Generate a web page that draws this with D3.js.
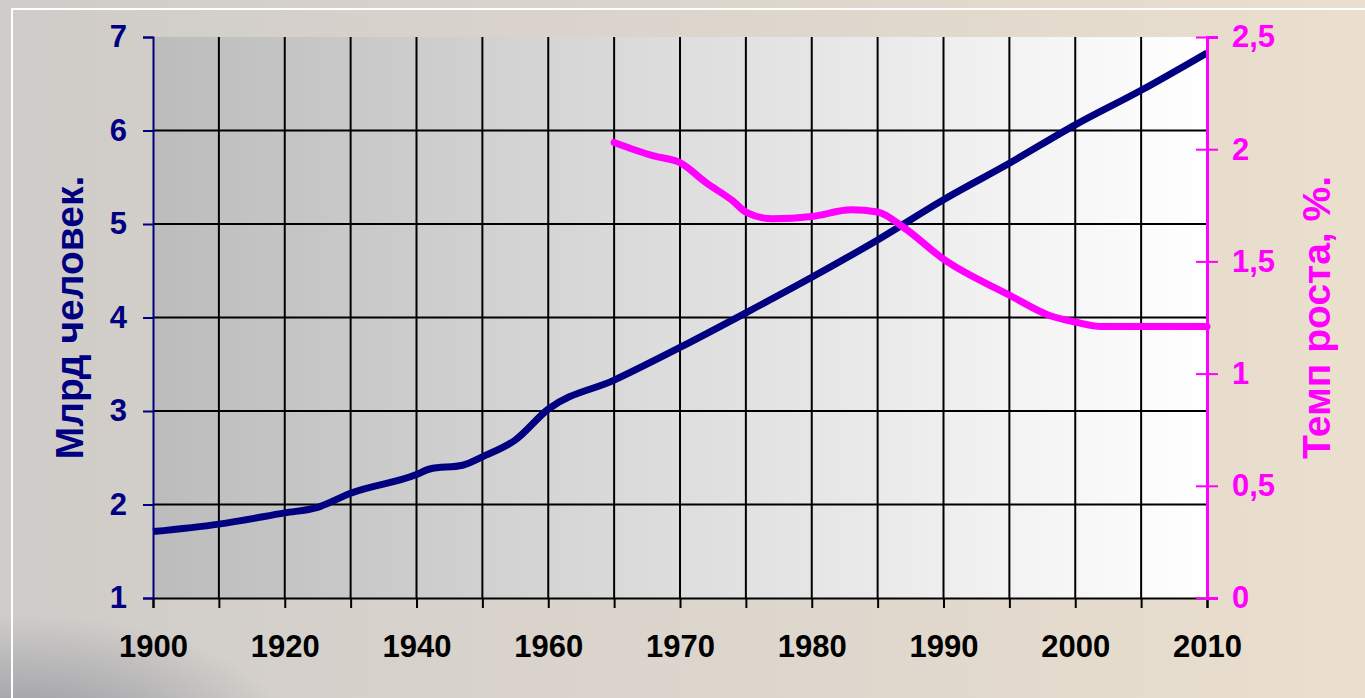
<!DOCTYPE html>
<html>
<head>
<meta charset="utf-8">
<script src="https://cdn.jsdelivr.net/npm/d3@7"></script>
<style>
  html, body { margin: 0; padding: 0; overflow: hidden; }
  body { width: 1365px; height: 698px; }
  text { font-family: "Liberation Sans", Arial, sans-serif; font-weight: bold; }
</style>
</head>
<body>
<svg id="chart" width="1365" height="698"></svg>
<script>
// categories on the x axis (one grid cell each)
var years = [1900, 1910, 1920, 1930, 1940, 1950, 1960, 1965, 1970, 1975, 1980, 1985, 1990, 1995, 2000, 2005, 2010]
var yearLabels = [1900, 1920, 1940, 1960, 1970, 1980, 1990, 2000, 2010]

// world population, bn
var popYears = [1900, 1910, 1920, 1925, 1930, 1940, 1942, 1947, 1950, 1955, 1960, 1965, 1970, 1975, 1980, 1985, 1990, 1995, 2000, 2005, 2010]
var popValues = [1.71, 1.79, 1.91, 1.97, 2.12, 2.32, 2.38, 2.42, 2.51, 2.69, 3.02, 3.33, 3.68, 4.05, 4.43, 4.83, 5.26, 5.65, 6.06, 6.43, 6.83]

// growth rate, %
var rateYears = [1965, 1968, 1970, 1972, 1974, 1975, 1977, 1980, 1983, 1985, 1987, 1990, 1995, 1998, 2000, 2002, 2010]
var rateValues = [2.03, 1.97, 1.94, 1.85, 1.77, 1.72, 1.69, 1.70, 1.73, 1.72, 1.65, 1.51, 1.35, 1.26, 1.23, 1.21, 1.21]

var leftTicks = [1, 2, 3, 4, 5, 6, 7]
var rightTicks = [0, 0.5, 1, 1.5, 2, 2.5]

var svg = d3.select('#chart')
var defs = svg.append('defs')

// page background (photo-like)
var bg = defs.append('linearGradient').attr('id', 'bg').attr('x1', 0).attr('x2', 1).attr('y1', 0).attr('y2', 0)
bg.append('stop').attr('offset', '0%').attr('stop-color', '#cfccc9')
bg.append('stop').attr('offset', '55%').attr('stop-color', '#ddd6cd')
bg.append('stop').attr('offset', '100%').attr('stop-color', '#ebdfcd')
var dark = defs.append('radialGradient').attr('id', 'dark').attr('cx', 0.02).attr('cy', 1.08).attr('r', 0.2)
dark.append('stop').attr('offset', '0%').attr('stop-color', '#7d828e').attr('stop-opacity', 0.8)
dark.append('stop').attr('offset', '100%').attr('stop-color', '#7d828e').attr('stop-opacity', 0)

svg.append('rect').attr('width', 1365).attr('height', 698).attr('fill', 'url(#bg)')
svg.append('rect').attr('width', 1365).attr('height', 698).attr('fill', 'url(#dark)')
svg.append('rect').attr('x', 12).attr('y', 9).attr('width', 1400).attr('height', 720)
  .attr('fill', 'none').attr('stroke', '#ffffff').attr('stroke-width', 2)

// plot area
var m = { left: 153, top: 37 }
var w = 1054, h = 561

var plotBg = defs.append('linearGradient').attr('id', 'plotbg').attr('x1', 0).attr('x2', 1).attr('y1', 0).attr('y2', 0)
plotBg.append('stop').attr('offset', '0%').attr('stop-color', '#bcbcbc')
plotBg.append('stop').attr('offset', '100%').attr('stop-color', '#ffffff')

var g = svg.append('g').attr('transform', 'translate(' + m.left + ',' + m.top + ')')

var x = d3.scaleLinear().domain([1900, 1960, 2010]).range([0, w * 6 / 16, w])
var y = d3.scaleLinear().domain([1, 7]).range([h, 0])
var y2 = d3.scaleLinear().domain([0, 2.5]).range([h, 0])

g.append('rect').attr('width', w).attr('height', h).attr('fill', 'url(#plotbg)')

// grid
g.selectAll('.vgrid').data(years.slice(1, -1)).enter().append('line')
  .attr('x1', function (d) { return x(d) }).attr('x2', function (d) { return x(d) })
  .attr('y1', 0).attr('y2', h)
  .attr('stroke', '#000').attr('stroke-width', 2)
g.selectAll('.hgrid').data(leftTicks.slice(1, -1)).enter().append('line')
  .attr('x1', 0).attr('x2', w)
  .attr('y1', function (d) { return y(d) }).attr('y2', function (d) { return y(d) })
  .attr('stroke', '#000').attr('stroke-width', 2)

// x axis
var xAxis = g.append('g').attr('transform', 'translate(0,' + h + ')')
  .call(d3.axisBottom(x).tickValues(years).tickSize(10).tickPadding(27)
    .tickFormat(function (d) { return yearLabels.indexOf(d) >= 0 ? d : '' }))
xAxis.select('.domain').attr('stroke', '#000').attr('stroke-width', 2)
xAxis.selectAll('.tick line').attr('stroke', '#000').attr('stroke-width', 2)
xAxis.selectAll('text').attr('fill', '#000').style('font-size', '31px')
  .attr('font-family', null).attr('font-size', null)

// left axis
var yAxis = g.append('g')
  .call(d3.axisLeft(y).tickValues(leftTicks).tickSize(10).tickPadding(16).tickFormat(d3.format('d')))
yAxis.select('.domain').attr('stroke', '#000080').attr('stroke-width', 2)
yAxis.selectAll('.tick line').attr('stroke', '#000080').attr('stroke-width', 2)
yAxis.selectAll('text').attr('fill', '#000080').style('font-size', '31px')
  .attr('font-family', null).attr('font-size', null)

// lines
var popLine = d3.line()
  .x(function (d, i) { return x(popYears[i]) })
  .y(function (d) { return y(d) })
  .curve(d3.curveMonotoneX)
g.append('path').datum(popValues).attr('d', popLine)
  .attr('fill', 'none').attr('stroke', '#000080').attr('stroke-width', 7)
  .attr('stroke-linejoin', 'round')

var rateLine = d3.line()
  .x(function (d, i) { return x(rateYears[i]) })
  .y(function (d) { return y2(d) })
  .curve(d3.curveMonotoneX)
g.append('path').datum(rateValues).attr('d', rateLine)
  .attr('fill', 'none').attr('stroke', '#ff00ff').attr('stroke-width', 7)
  .attr('stroke-linecap', 'round').attr('stroke-linejoin', 'round')

// right axis
var y2Axis = g.append('g').attr('transform', 'translate(' + w + ',0)')
  .call(d3.axisRight(y2).tickValues(rightTicks).tickSize(11).tickPadding(14)
    .tickFormat(function (d) { return String(d).replace('.', ',') }))
y2Axis.select('.domain').attr('stroke', '#ff00ff').attr('stroke-width', 3)
y2Axis.selectAll('.tick line').attr('x1', -11).attr('stroke', '#ff00ff').attr('stroke-width', 2)
y2Axis.selectAll('text').attr('fill', '#ff00ff').style('font-size', '31px')
  .attr('font-family', null).attr('font-size', null)

// axis titles
svg.append('text')
  .attr('transform', 'translate(83,' + (m.top + h / 2) + ') rotate(-90)')
  .attr('text-anchor', 'middle')
  .attr('fill', '#000080')
  .style('font-size', '39px')
  .text('Млрд человек.')

svg.append('text')
  .attr('transform', 'translate(1330,' + (m.top + h / 2) + ') rotate(-90)')
  .attr('text-anchor', 'middle')
  .attr('fill', '#ff00ff')
  .style('font-size', '39px')
  .text('Темп роста, %.')
</script>
</body>
</html>
